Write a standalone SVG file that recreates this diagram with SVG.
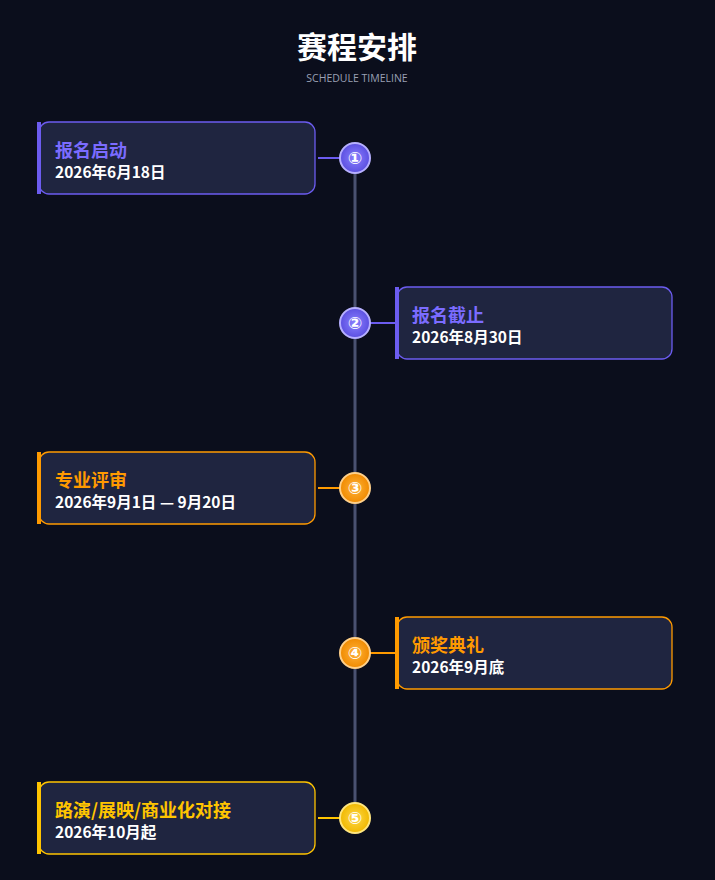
<svg xmlns="http://www.w3.org/2000/svg" width="715" height="880" viewBox="0 0 715 880">
<style>
.box{fill:#1f2540;stroke-width:1.3}
.t{font-family:"Noto Sans CJK SC","Noto Sans",sans-serif;font-weight:bold;font-size:18px}
.d{font-family:"Noto Sans CJK SC","Noto Sans",sans-serif;font-weight:bold;font-size:15.5px;fill:#ffffff}
.n{font-family:"DejaVu Sans","Noto Sans CJK SC",sans-serif;font-weight:bold;font-size:17px;fill:#ffffff;text-anchor:middle}
.p{stroke:#6c5cf0;fill:#6c5cf0}
.o{stroke:#ff9a00;fill:#ff9a00}
.y{stroke:#ffc400;fill:#ffc400}
</style>
<defs>
<radialGradient id="gp"><stop offset="0" stop-color="#8a80ff"/><stop offset="1" stop-color="#5b4fe0"/></radialGradient>
<radialGradient id="go"><stop offset="0" stop-color="#ffb23a"/><stop offset="1" stop-color="#f08a00"/></radialGradient>
<radialGradient id="gy"><stop offset="0" stop-color="#ffd84a"/><stop offset="1" stop-color="#f0b800"/></radialGradient>
</defs>
<rect width="715" height="880" fill="#0b0e1c"/>
<text x="357" y="58" text-anchor="middle" font-family="Noto Sans CJK SC,sans-serif" font-weight="bold" font-size="30" fill="#fff">赛程安排</text>
<text x="357" y="82" text-anchor="middle" font-family="Open Sans,sans-serif" font-size="10.5" fill="#9aa0b4">SCHEDULE TIMELINE</text>
<g id="connectors" stroke-width="2">
<line x1="355" y1="158" x2="355" y2="818" stroke="#4a5170" stroke-width="3"/>
<line x1="318" y1="158" x2="340" y2="158" stroke="#6c5cf0"/>
<line x1="370" y1="323" x2="396" y2="323" stroke="#6c5cf0"/>
<line x1="318" y1="488" x2="340" y2="488" stroke="#ff9a00"/>
<line x1="370" y1="653" x2="396" y2="653" stroke="#ff9a00"/>
<line x1="318" y1="818" x2="340" y2="818" stroke="#ffc400"/>
</g>
<g id="n1"><rect class="box" x="39" y="122" width="276" height="72" rx="10" stroke="#6c5cf0"/><rect x="37" y="122" width="4" height="72" fill="#6c5cf0"/>
<text class="t" x="55" y="157" fill="#7b6cff">报名启动</text><text class="d" x="55" y="178">2026年6月18日</text>
<circle cx="355" cy="158" r="15" fill="url(#gp)" stroke="#b7b0ff" stroke-width="2"/><text class="n" x="355" y="164">①</text></g>
<g id="n2"><rect class="box" x="397" y="287" width="275" height="72" rx="10" stroke="#6c5cf0"/><rect x="395" y="287" width="4" height="72" fill="#6c5cf0"/>
<text class="t" x="412" y="322" fill="#7b6cff">报名截止</text><text class="d" x="412" y="343">2026年8月30日</text>
<circle cx="355" cy="323" r="15" fill="url(#gp)" stroke="#b7b0ff" stroke-width="2"/><text class="n" x="355" y="329">②</text></g>
<g id="n3"><rect class="box" x="39" y="452" width="276" height="72" rx="10" stroke="#ff9a00"/><rect x="37" y="452" width="4" height="72" fill="#ff9a00"/>
<text class="t" x="55" y="487" fill="#ff9a00">专业评审</text><text class="d" x="55" y="508">2026年9月1日 — 9月20日</text>
<circle cx="355" cy="488" r="15" fill="url(#go)" stroke="#ffd08a" stroke-width="2"/><text class="n" x="355" y="494">③</text></g>
<g id="n4"><rect class="box" x="397" y="617" width="275" height="72" rx="10" stroke="#ff9a00"/><rect x="395" y="617" width="4" height="72" fill="#ff9a00"/>
<text class="t" x="412" y="652" fill="#ff9a00">颁奖典礼</text><text class="d" x="412" y="673">2026年9月底</text>
<circle cx="355" cy="653" r="15" fill="url(#go)" stroke="#ffd08a" stroke-width="2"/><text class="n" x="355" y="659">④</text></g>
<g id="n5"><rect class="box" x="39" y="782" width="276" height="72" rx="10" stroke="#ffc400"/><rect x="37" y="782" width="4" height="72" fill="#ffc400"/>
<text class="t" x="55" y="817" fill="#ffc400">路演/展映/商业化对接</text><text class="d" x="55" y="838">2026年10月起</text>
<circle cx="355" cy="818" r="15" fill="url(#gy)" stroke="#ffe680" stroke-width="2"/><text class="n" x="355" y="824">⑤</text></g>
</svg>
